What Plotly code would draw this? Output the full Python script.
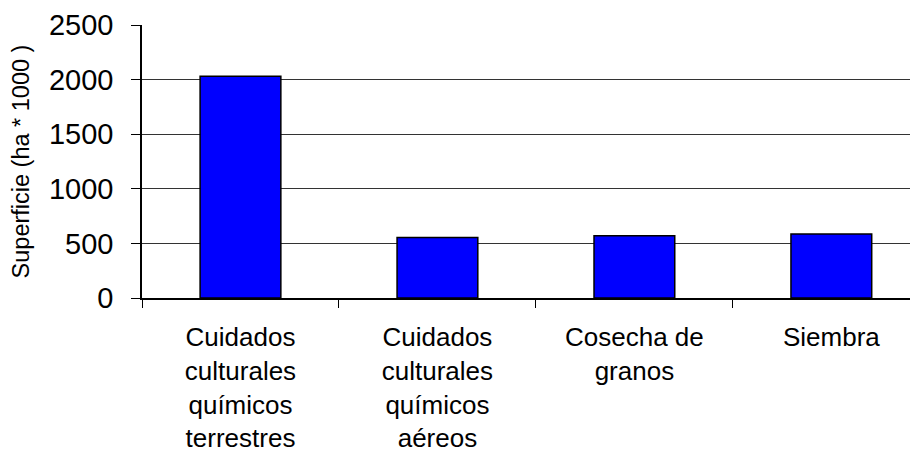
import plotly.graph_objects as go

# datos
categorias = [
    "Cuidados<br>culturales<br>químicos<br>terrestres",
    "Cuidados<br>culturales<br>químicos<br>aéreos",
    "Cosecha de<br>granos",
    "Siembra",
]
superficie = [2030, 555, 570, 585]
y_ticks = [0, 500, 1000, 1500, 2000, 2500]

fuente = "Liberation Sans, Arial, sans-serif"

fig = go.Figure(go.Bar(
    x=categorias,
    y=superficie,
    width=0.41,
    marker=dict(color="#0000FF", line=dict(color="black", width=1.5)),
))

# la página tiene un margen de 8px, por eso 910x445
fig.update_layout(
    width=910, height=445,
    margin=dict(l=134, r=0, t=17, b=149),
    paper_bgcolor="white", plot_bgcolor="white",
    showlegend=False,
    font=dict(family=fuente, color="black"),
)

fig.update_xaxes(
    type="category",
    range=[-0.5, 3.44],
    tickson="boundaries",
    ticks="outside", ticklen=8, tickwidth=1, tickcolor="black",
    showline=True, linecolor="black", linewidth=1.5,
    showgrid=False,
    tickfont=dict(size=26, family=fuente),
    ticklabelstandoff=15,
)

fig.update_yaxes(
    range=[0, 2500],
    tickvals=y_ticks,
    ticks="outside", ticklen=9, tickwidth=1, tickcolor="black",
    showline=True, linecolor="black", linewidth=1.5,
    showgrid=True, gridcolor="#333333", gridwidth=1,
    zeroline=False,
    tickfont=dict(size=29, family=fuente),
    ticklabelstandoff=12,
    title=dict(text="Superficie (ha * 1000 )", font=dict(size=23.5, family=fuente), standoff=13),
    automargin=False,
)

fig.write_html("out.html")
